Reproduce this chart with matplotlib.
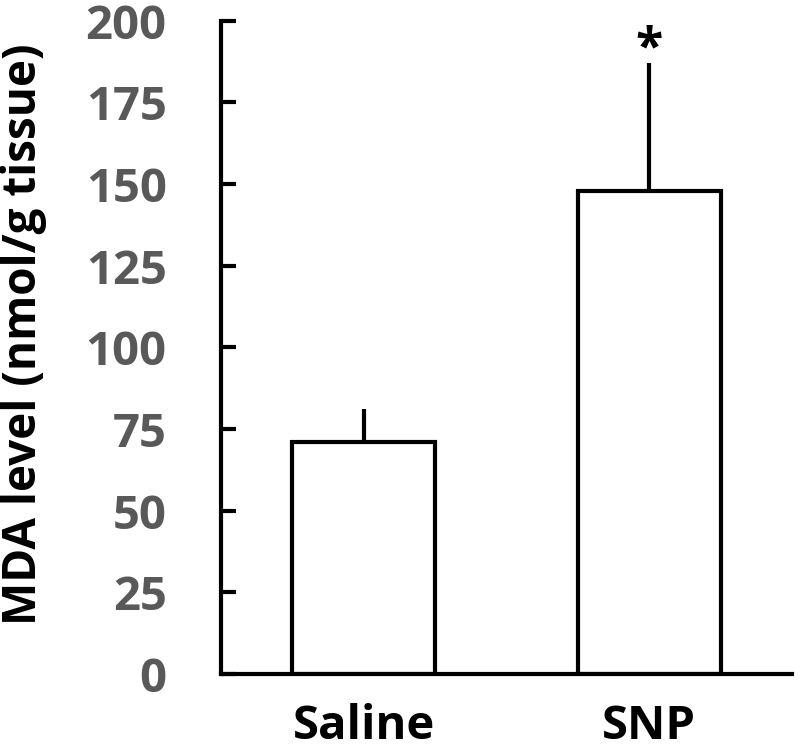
import matplotlib.pyplot as plt

# MDA levels per group (mean + upper error)
groups = ["Saline", "SNP"]
mda_mean = [71, 148]
mda_err = [10, 39]
signif = ["", "*"]
y_ticks = [0, 25, 50, 75, 100, 125, 150, 175, 200]

plt.rcParams['font.family'] = ['Open Sans', 'DejaVu Sans']
plt.rcParams['font.weight'] = 'bold'

fig = plt.figure(figsize=(8, 7.49), dpi=100)
ax = fig.add_axes([0.276, 0.100, 0.714, 0.8724])

x = range(len(groups))
ax.errorbar(x, mda_mean, yerr=[[0] * len(mda_err), mda_err], fmt='none',
            ecolor='black', elinewidth=3, capsize=0, zorder=1)
ax.bar(x, mda_mean, width=0.5, color='white', edgecolor='black',
       linewidth=3, zorder=2)

for i, s in enumerate(signif):
    if s:
        ax.text(i, mda_mean[i] + mda_err[i] - 3.6, s, ha='center', va='bottom',
                fontsize=36, fontweight='bold')

ax.set_xlim(-0.5, 1.5)
ax.set_ylim(0, 200)
ax.set_yticks(y_ticks)
ax.set_xticks(list(x))
ax.set_xticklabels(groups, fontsize=34, fontweight='bold', color='black')
ax.tick_params(axis='y', direction='in', length=11, width=3, pad=39,
               labelsize=34, labelcolor='#595959')
ax.tick_params(axis='x', length=0, pad=21)
for lab in ax.get_yticklabels():
    lab.set_fontweight('bold')

ax.spines['top'].set_visible(False)
ax.spines['right'].set_visible(False)
ax.spines['left'].set_linewidth(3)
ax.spines['bottom'].set_linewidth(3)

ax.set_ylabel("MDA level (nmol/g tissue)", fontsize=33, fontweight='bold')
ax.yaxis.set_label_coords(-0.305, 0.52)

fig.savefig("out.png", dpi=100)
